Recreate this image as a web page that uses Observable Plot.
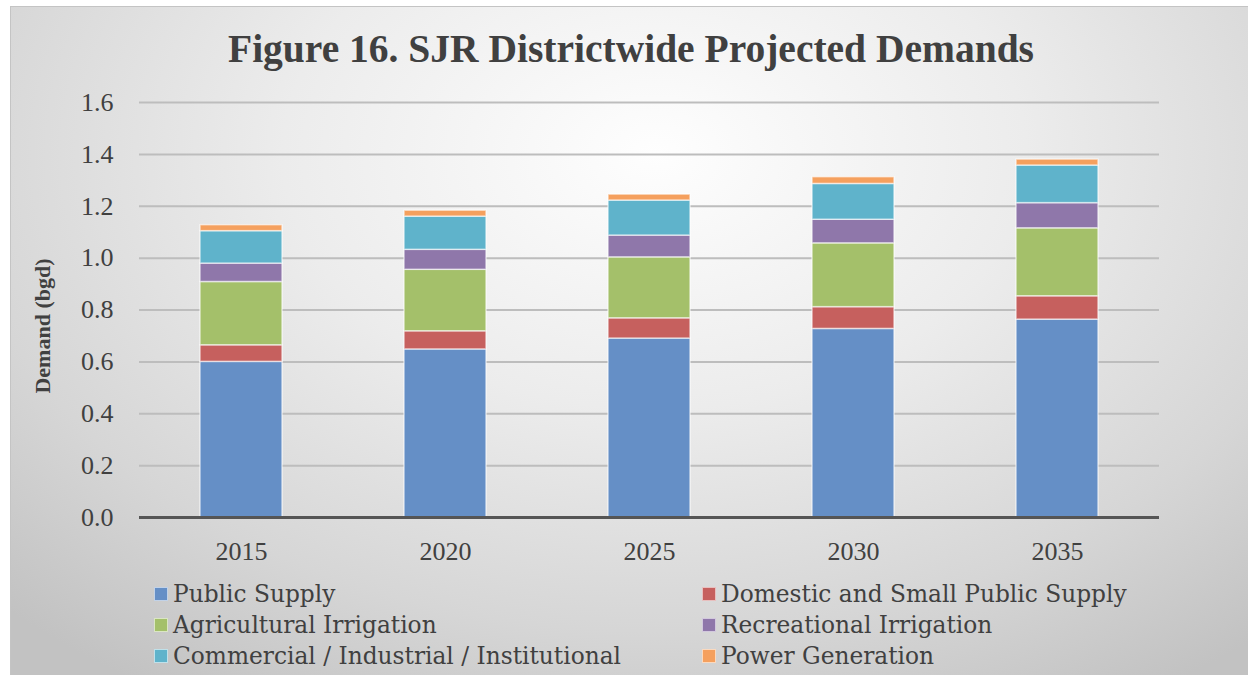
<!DOCTYPE html>
<html><head><meta charset="utf-8">
<script src="https://cdn.jsdelivr.net/npm/d3@7"></script>
<script src="https://cdn.jsdelivr.net/npm/@observablehq/plot@0.6"></script>
<style>
html,body{margin:0;padding:0;background:#fff;width:1248px;height:675px;overflow:hidden;}
#frame{position:absolute;left:10px;top:6px;width:1238px;height:669px;border-top:1px solid #c4c4c4;border-left:1px solid #c4c4c4;
 background:radial-gradient(ellipse 75% 95% at 52% 22%, #fefefe 0%, #ececec 40%, #d6d6d6 75%, #c2c2c2 100%);}
#title{position:absolute;left:0;width:1262px;top:30px;text-align:center;font:bold 39.5px/39.5px "Liberation Serif",serif;color:#404040;white-space:nowrap;}
#chart{position:absolute;left:0;top:0;}
.leg{position:absolute;height:31px;font:23.3px/31px "DejaVu Serif",serif;color:#404040;white-space:nowrap;}
.sw{position:absolute;left:0;top:9px;width:14px;height:14px;border:1px solid rgba(255,255,255,0.6);box-sizing:border-box;}
.leg span.t{position:absolute;left:19px;top:0;}
</style></head><body>
<div id="frame"></div>
<div id="title">Figure 16. SJR Districtwide Projected Demands</div>
<div id="chart"></div>
<div id="legend"></div>
<script>
const years = ["2015", "2020", "2025", "2030", "2035"];
const seriesNames = ["Public Supply", "Domestic and Small Public Supply", "Agricultural Irrigation", "Recreational Irrigation", "Commercial / Industrial / Institutional", "Power Generation"];
const publicSupply = [0.600, 0.648, 0.690, 0.727, 0.763];
const domesticSmall = [0.064, 0.070, 0.078, 0.084, 0.090];
const agricultural = [0.244, 0.237, 0.235, 0.246, 0.262];
const recreational = [0.071, 0.077, 0.084, 0.091, 0.097];
const commercial = [0.125, 0.128, 0.135, 0.138, 0.145];
const powerGen = [0.023, 0.023, 0.023, 0.026, 0.023];
const yTicks = [0, 0.2, 0.4, 0.6, 0.8, 1.0, 1.2, 1.4, 1.6];
const colors = ["#658fc6", "#c6605e", "#a4c06a", "#8f77aa", "#5fb3cb", "#f5a05e"];

const seriesValues = [publicSupply, domesticSmall, agricultural, recreational, commercial, powerGen];
const data = [];
seriesNames.forEach((s, i) => years.forEach((y, j) => data.push({year: y, series: s, value: seriesValues[i][j]})));

const chart = Plot.plot({
  width: 1248, height: 580,
  marginTop: 102, marginBottom: 63, marginLeft: 139, marginRight: 89,
  style: {background: "transparent", color: "#404040", fontFamily: "Liberation Serif, serif"},
  x: {domain: years, paddingInner: 0.6, paddingOuter: 0.3, label: null},
  y: {domain: [0, 1.6], label: null},
  color: {domain: seriesNames, range: colors},
  marks: [
    Plot.ruleY(yTicks.filter(d => d > 0), {stroke: "#bdbdbd", strokeWidth: 2}),
    Plot.barY(data, {x: "year", y: "value", fill: "series", order: seriesNames, stroke: "white", strokeOpacity: 0.6, strokeWidth: 1.5}),
    Plot.ruleY([0], {stroke: "#555555", strokeWidth: 3}),
    Plot.axisY({ticks: yTicks, tickSize: 0, tickPadding: 26, tickFormat: d3.format(".1f"), fontSize: 26, label: null}),
    Plot.axisX({tickSize: 0, tickPadding: 24, fontSize: 26, label: null}),
    Plot.text(["Demand (bgd)"], {frameAnchor: "left", rotate: -90, dx: -97, dy: 16, fontSize: 22, fontWeight: "bold", fill: "#404040", textAnchor: "middle"})
  ]
});
document.getElementById("chart").appendChild(chart);

const legend = document.getElementById("legend");
const colX = [154, 702];
const rowTop = [578, 609, 640];
seriesNames.forEach((s, i) => {
  const d = document.createElement("div");
  d.className = "leg";
  d.style.left = colX[i % 2] + "px";
  d.style.top = rowTop[Math.floor(i / 2)] + "px";
  const sw = document.createElement("div");
  sw.className = "sw";
  sw.style.background = colors[i];
  const t = document.createElement("span");
  t.className = "t";
  t.textContent = s;
  d.appendChild(sw); d.appendChild(t);
  legend.appendChild(d);
});
</script>
</body></html>
